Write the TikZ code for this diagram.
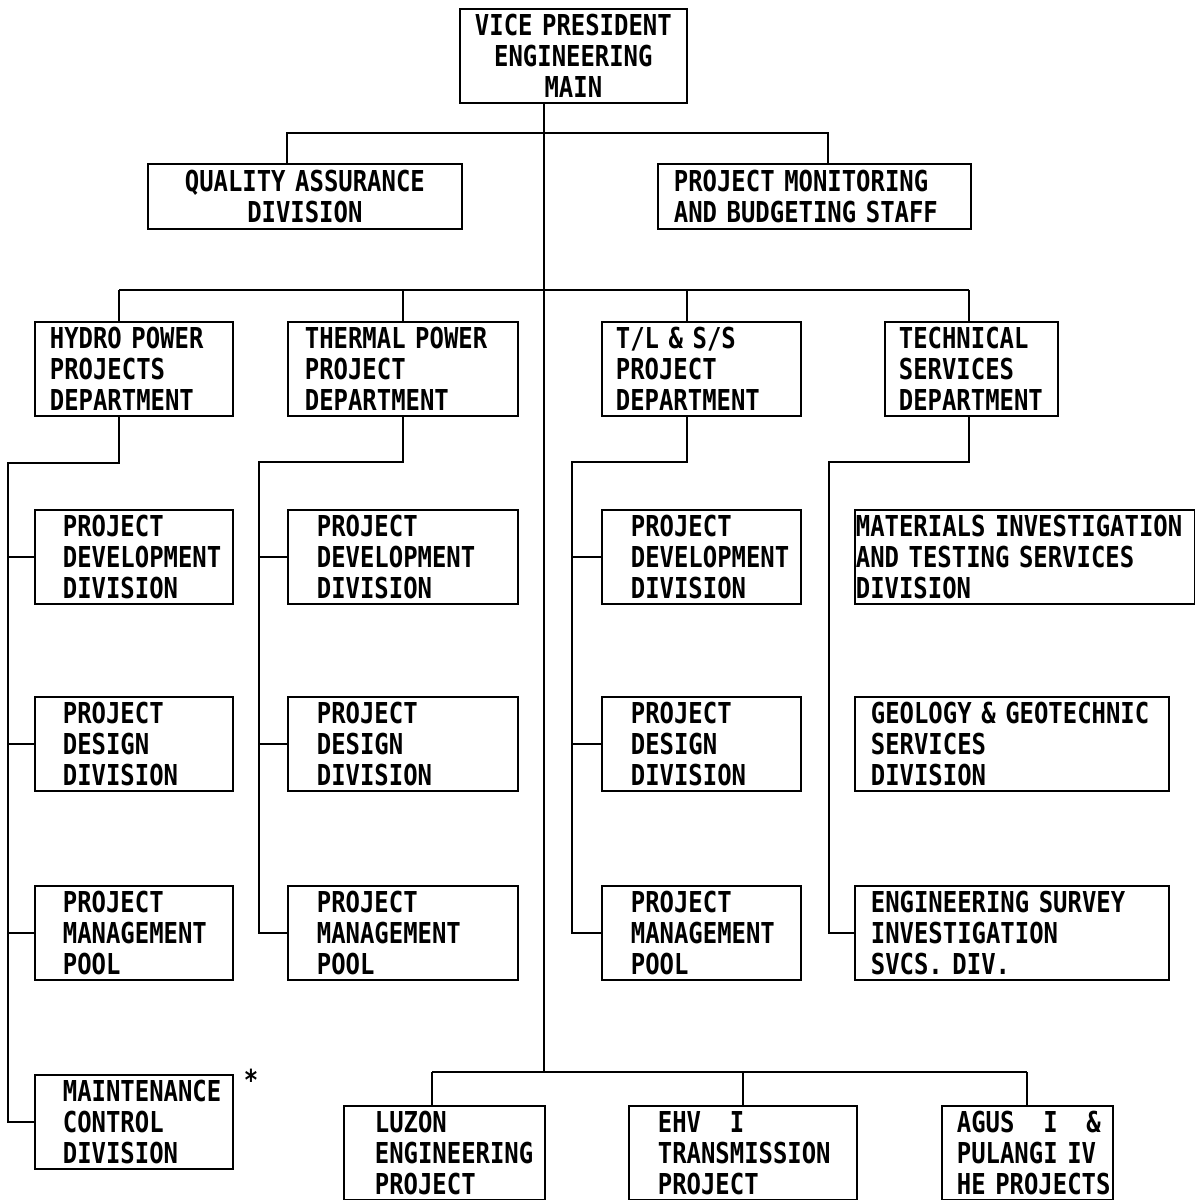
\documentclass[tikz,border=0pt]{standalone}
\usepackage{fontspec}
\newfontfamily\chartfont[FakeStretch=0.83]{DejaVu Sans Mono}
\hfuzz=40pt
\hyphenpenalty=10000
\exhyphenpenalty=10000
\begin{document}
\begin{tikzpicture}[x=0.02cm,y=-0.02cm,line width=1pt,
  unit/.style={draw,anchor=north west,inner ysep=0pt,align=left,minimum height=1.88cm,font=\chartfont\bfseries\fontsize{16.4pt}{17.64pt}\selectfont}]
\useasboundingbox (0,0) rectangle (1195,1200);
\node[unit,align=center,text width=4.14cm,inner xsep=0.2cm] (vp) at (459,8) {VICE~PRESIDENT\\ENGINEERING\\MAIN};
\node[unit,align=center,minimum height=1.3cm,text width=5.88cm,inner xsep=0.2cm] (qa) at (147,163) {QUALITY~ASSURANCE\\DIVISION};
\node[unit,minimum height=1.3cm,text width=5.62cm,inner xsep=0.32cm] (pmbs) at (657,163) {PROJECT~MONITORING\\AND~BUDGETING~STAFF};
\node[unit,text width=3.36cm,inner xsep=0.30cm] (hydro) at (34,321) {HYDRO~POWER\\PROJECTS\\DEPARTMENT};
\node[unit,text width=3.92cm,inner xsep=0.34cm] (thermal) at (287,321) {THERMAL~POWER\\PROJECT\\DEPARTMENT};
\node[unit,text width=3.42cm,inner xsep=0.28cm] (tlss) at (601,321) {T/L~\&~S/S\\PROJECT\\DEPARTMENT};
\node[unit,text width=2.90cm,inner xsep=0.28cm] (tech) at (884,321) {TECHNICAL\\SERVICES\\DEPARTMENT};
\node[unit,text width=2.84cm,inner xsep=0.56cm] (hpdd) at (34,509) {PROJECT\\DEVELOPMENT\\DIVISION};
\node[unit,text width=2.84cm,inner xsep=0.56cm] (hpds) at (34,696) {PROJECT\\DESIGN\\DIVISION};
\node[unit,text width=2.84cm,inner xsep=0.56cm] (hpmp) at (34,885) {PROJECT\\MANAGEMENT\\POOL};
\node[unit,text width=2.84cm,inner xsep=0.56cm] (hmcd) at (34,1074) {MAINTENANCE\\CONTROL\\DIVISION};
\node[unit,text width=3.44cm,inner xsep=0.58cm] (tpdd) at (287,509) {PROJECT\\DEVELOPMENT\\DIVISION};
\node[unit,text width=3.44cm,inner xsep=0.58cm] (tpds) at (287,696) {PROJECT\\DESIGN\\DIVISION};
\node[unit,text width=3.44cm,inner xsep=0.58cm] (tpmp) at (287,885) {PROJECT\\MANAGEMENT\\POOL};
\node[unit,text width=2.82cm,inner xsep=0.58cm] (lpdd) at (601,509) {PROJECT\\DEVELOPMENT\\DIVISION};
\node[unit,text width=2.82cm,inner xsep=0.58cm] (lpds) at (601,696) {PROJECT\\DESIGN\\DIVISION};
\node[unit,text width=2.82cm,inner xsep=0.58cm] (lpmp) at (601,885) {PROJECT\\MANAGEMENT\\POOL};
\node[unit,text width=6.76cm,inner xsep=0.02cm] (mits) at (854,509) {MATERIALS~INVESTIGATION\\AND~TESTING~SERVICES\\DIVISION};
\node[unit,text width=5.64cm,inner xsep=0.32cm] (ggsd) at (854,696) {GEOLOGY~\&~GEOTECHNIC\\SERVICES\\DIVISION};
\node[unit,text width=5.64cm,inner xsep=0.32cm] (esis) at (854,885) {ENGINEERING~SURVEY\\INVESTIGATION\\SVCS.~DIV.};
\node[unit,text width=2.78cm,inner xsep=0.62cm] (luzon) at (343,1105) {LUZON\\ENGINEERING\\PROJECT};
\node[unit,text width=3.40cm,inner xsep=0.58cm] (ehv) at (628,1105) {EHV\hphantom{00}I\\TRANSMISSION\\PROJECT};
\node[unit,text width=2.82cm,inner xsep=0.30cm] (agus) at (941,1105) {AGUS\hphantom{00}I\hphantom{00}\&\\PULANGI~IV\\HE~PROJECTS};
\node[font=\chartfont\bfseries\fontsize{16.4pt}{17.64pt}\selectfont] (star) at (251,1080) {*};
\coordinate (trunk) at (544,1072);
\coordinate (qaj) at (287,133);
\coordinate (pmj) at (828,133);
\coordinate (hyj) at (119,290);
\coordinate (thj) at (403,290);
\coordinate (tlj) at (687,290);
\coordinate (tsj) at (969,290);
\coordinate (hyl) at (8,463);
\coordinate (thl) at (259,462);
\coordinate (tll) at (572,462);
\coordinate (tsl) at (829,462);
\coordinate (lzj) at (432,1072);
\coordinate (ehj) at (743,1072);
\coordinate (agj) at (1027,1072);
\draw (vp.south -| trunk) -- (trunk);
\draw (qaj |- qa.north) -- (qaj) -- (pmj) -- (pmj |- pmbs.north);
\draw (hyj) -- (tsj);
\draw (hyj) -- (hyj |- hydro.north);
\draw (thj) -- (thj |- thermal.north);
\draw (tlj) -- (tlj |- tlss.north);
\draw (tsj) -- (tsj |- tech.north);
\draw (hydro.south -| hyj) |- (hyl) -- (hyl |- hmcd.west) -- (hmcd.west);
\draw (hyl |- hpdd.west) -- (hpdd.west);
\draw (hyl |- hpds.west) -- (hpds.west);
\draw (hyl |- hpmp.west) -- (hpmp.west);
\draw (thermal.south -| thj) |- (thl) -- (thl |- tpmp.west) -- (tpmp.west);
\draw (thl |- tpdd.west) -- (tpdd.west);
\draw (thl |- tpds.west) -- (tpds.west);
\draw (tlss.south -| tlj) |- (tll) -- (tll |- lpmp.west) -- (lpmp.west);
\draw (tll |- lpdd.west) -- (lpdd.west);
\draw (tll |- lpds.west) -- (lpds.west);
\draw (tech.south -| tsj) |- (tsl) -- (tsl |- esis.west) -- (esis.west);
\draw (lzj) -- (agj);
\draw (lzj) -- (lzj |- luzon.north);
\draw (ehj) -- (ehj |- ehv.north);
\draw (agj) -- (agj |- agus.north);
\end{tikzpicture}
\end{document}
